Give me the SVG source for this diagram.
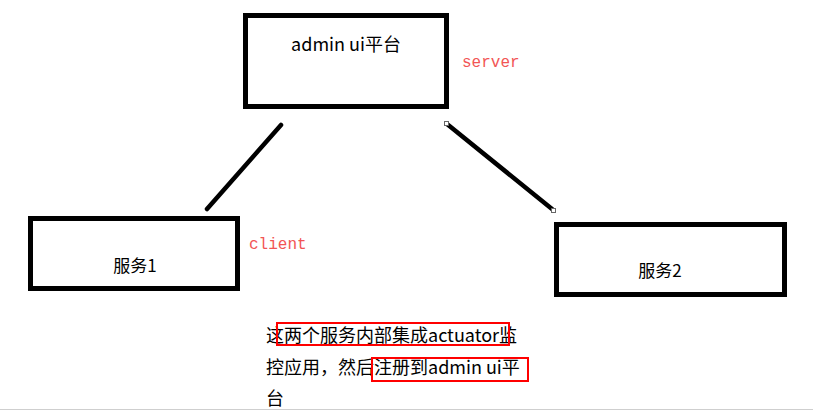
<svg xmlns="http://www.w3.org/2000/svg" width="827" height="411" viewBox="0 0 827 411">
<style>
.box{fill:#fff;stroke:#000;stroke-width:5}
.lbl{font-family:"Microsoft YaHei","Noto Sans CJK SC",sans-serif;font-size:17px;fill:#000}
.note{font-family:"Liberation Mono","Noto Sans CJK SC",monospace;font-size:16px;fill:#f25555}
.conn{stroke:#000;stroke-width:4.5;stroke-linecap:round}
.hdl{fill:#fff;stroke:#666;stroke-width:1}
.body{font-family:"Microsoft YaHei","Noto Sans CJK SC",sans-serif;font-size:18px;fill:#000}
.hl{fill:none;stroke:#f00;stroke-width:2}
</style>
<rect width="827" height="411" fill="#fff"/>
<g id="connectors">
<line class="conn" x1="281" y1="125" x2="207" y2="209"/>
<line class="conn" x1="447" y1="124" x2="552" y2="209"/>
<rect class="hdl" x="444.5" y="121.5" width="4" height="4"/>
<rect class="hdl" x="551.5" y="208.5" width="4" height="4"/>
</g>
<g id="server">
<rect class="box" x="245.5" y="15.5" width="201" height="91"/>
<text class="lbl" x="346" y="51" text-anchor="middle" style="font-size:18px">admin ui平台</text>
</g>
<text class="note" x="462" y="67">server</text>
<g id="service1">
<rect class="box" x="30.5" y="218.5" width="207" height="70"/>
<text class="lbl" x="135" y="272" text-anchor="middle">服务1</text>
</g>
<text class="note" x="249" y="249">client</text>
<g id="service2">
<rect class="box" x="556.5" y="224.5" width="228" height="70"/>
<text class="lbl" x="660" y="277" text-anchor="middle">服务2</text>
</g>
<g id="description">
<text class="body" x="266" y="342">这两个服务内部集成actuator监</text>
<text class="body" x="266" y="374">控应用，然后注册到admin ui平</text>
<text class="body" x="266" y="405">台</text>
<rect class="hl" x="277" y="323" width="232" height="22"/>
<rect class="hl" x="372" y="358" width="156" height="23"/>
</g>
<line x1="0" y1="409.5" x2="813" y2="409.5" stroke="#cfcfcf" stroke-width="1"/>
</svg>
